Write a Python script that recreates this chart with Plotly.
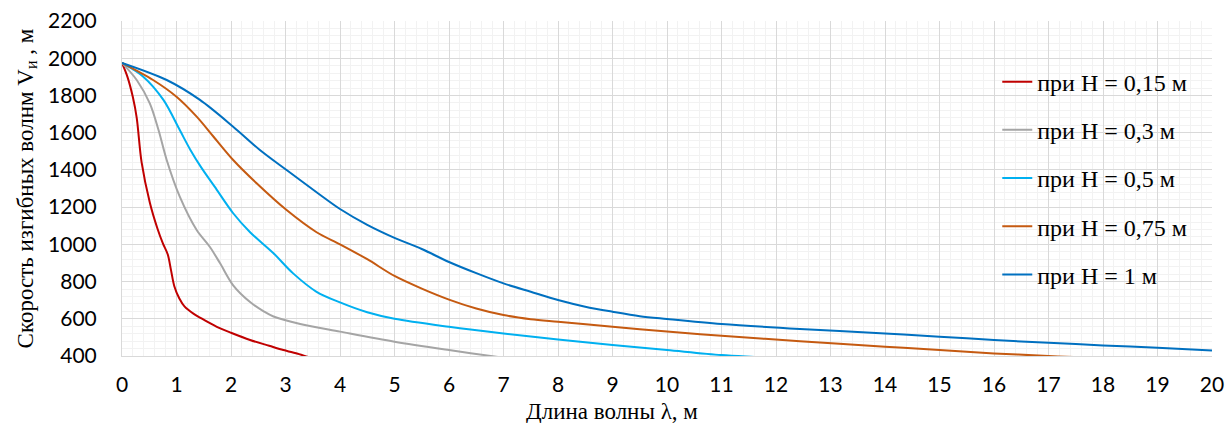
import plotly.graph_objects as go

# H = 0.15 m
x_015 = [0, 0.1, 0.2, 0.27, 0.36, 0.51, 0.65, 0.75, 0.84, 0.9, 0.96, 1.05, 1.15, 1.31, 1.5, 1.74, 2.0, 2.35, 2.7, 2.96, 3.25, 3.45, 3.8]
v_015 = [1975, 1900, 1790, 1680, 1440, 1225, 1085, 1005, 945, 860, 775, 710, 665, 628, 595, 557, 525, 486, 455, 432, 410, 392, 370]

# H = 0.3 m
x_03 = [0, 0.27, 0.51, 0.67, 0.82, 1.06, 1.37, 1.61, 1.8, 2.04, 2.35, 2.6, 2.78, 3.27, 4.0, 5.0, 6.0, 6.94, 7.3]
v_03 = [1975, 1883, 1757, 1614, 1453, 1256, 1077, 987, 898, 780, 690, 640, 612, 572, 531, 477, 432, 393, 380]

# H = 0.5 m
x_05 = [0, 0.39, 0.76, 1.06, 1.25, 1.45, 1.7, 2.04, 2.35, 2.78, 3.14, 3.57, 4.0, 4.5, 5.0, 6.0, 7.0, 8.0, 9.0, 10.0, 11.0, 11.7, 12.2]
v_05 = [1975, 1901, 1776, 1614, 1510, 1415, 1310, 1167, 1065, 952, 844, 745, 688, 635, 600, 557, 521, 489, 459, 432, 405, 393, 383]

# H = 0.75 m
x_075 = [0, 0.57, 1.0, 1.37, 1.68, 2.04, 2.47, 3.02, 3.57, 4.0, 4.5, 5.0, 5.5, 6.0, 6.5, 7.0, 7.5, 8.0, 9.0, 10.0, 11.0, 12.44, 14.0, 15.0, 16.0, 17.0, 17.6, 18.2]
v_075 = [1975, 1883, 1793, 1686, 1578, 1453, 1328, 1184, 1065, 1000, 920, 830, 762, 703, 655, 620, 598, 584, 557, 531, 509, 479, 450, 432, 414, 400, 393, 385]

# H = 1 m
x_1 = [0, 0.82, 1.43, 2.04, 2.53, 3.02, 3.57, 4.0, 4.5, 5.0, 5.5, 6.0, 6.5, 7.0, 7.5, 8.0, 8.5, 9.0, 9.5, 10.0, 11.0, 12.44, 14.0, 15.0, 16.0, 17.0, 18.0, 19.0, 20.0]
v_1 = [1975, 1883, 1776, 1632, 1507, 1399, 1280, 1190, 1105, 1035, 975, 905, 845, 790, 745, 701, 665, 638, 614, 599, 572, 545, 521, 504, 486, 471, 457, 445, 430]

names = ["при Н = 0,15 м", "при Н = 0,3 м", "при Н = 0,5 м", "при Н = 0,75 м", "при Н = 1 м"]
colors = ["#C00000", "#A5A5A5", "#00B0F0", "#C55A11", "#0070C0"]
xs = [x_015, x_03, x_05, x_075, x_1]
vs = [v_015, v_03, v_05, v_075, v_1]

fig = go.Figure()
for i, (xx, vv) in enumerate(zip(xs, vs)):
    fig.add_trace(go.Scatter(
        x=xx, y=vv, mode="lines", name=names[i], legendgroup=str(i),
        line=dict(color=colors[i], width=2, shape="spline", smoothing=0.9),
    ))

serif = "Liberation Serif, Times New Roman, serif"
sans = "Lato, Carlito, Calibri, sans-serif"

fig.update_layout(
    width=1225, height=423,
    margin=dict(l=122, r=13, t=21, b=67),
    paper_bgcolor="white", plot_bgcolor="white",
    showlegend=True,
    legend=dict(
        x=0.803, y=0.885, xanchor="left", yanchor="top",
        bgcolor="rgba(0,0,0,0)",
        font=dict(family=serif, size=24, color="#000"),
        traceorder="grouped", tracegroupgap=14,
    ),
    xaxis=dict(
        range=[0, 20], dtick=1, tick0=0, automargin=False,
        showgrid=True, gridcolor="#D9D9D9", gridwidth=1,
        minor=dict(dtick=0.2, showgrid=True, gridcolor="#F2F2F2", gridwidth=1),
        showline=True, linecolor="#D9D9D9", zeroline=False,
        tickfont=dict(family=sans, size=21, color="#000"),
        ticklabelstandoff=10,
    ),
    yaxis=dict(
        range=[400, 2200], dtick=200, tick0=400, automargin=False,
        showgrid=True, gridcolor="#D9D9D9", gridwidth=1,
        minor=dict(dtick=40, showgrid=True, gridcolor="#F2F2F2", gridwidth=1),
        showline=True, linecolor="#D9D9D9", zeroline=False,
        tickfont=dict(family=sans, size=21, color="#000"),
        ticklabelstandoff=20,
        title=dict(text="Скорость изгибных волнм V<sub>и</sub> , м", font=dict(family=serif, size=23, color="#000"), standoff=8),
    ),
    annotations=[dict(
        text="Длина волны λ, м", xref="paper", yref="paper",
        x=(612 - 122) / 1090, y=-(411 - 356) / 335, xanchor="center", yanchor="middle",
        showarrow=False, font=dict(family=serif, size=23, color="#000"),
    )],
)

fig.write_html("out.html")
